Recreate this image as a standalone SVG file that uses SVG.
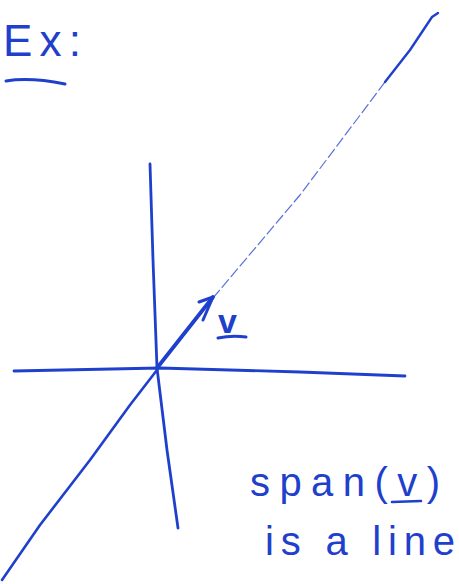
<svg xmlns="http://www.w3.org/2000/svg" width="459" height="584" viewBox="0 0 459 584">
<style>
.ink{fill:none;stroke:#1f40cc;stroke-linecap:round;stroke-linejoin:round}
.t{fill:#1f40cc;font-family:"Liberation Sans",Arial,sans-serif}
</style>
<rect width="459" height="584" fill="#fff"/>
<g id="title">
<text class="t" x="3" y="56" font-size="44" textLength="78" lengthAdjust="spacing">Ex:</text>
<path class="ink" stroke-width="3" d="M6 81 Q30 77 65 84"/>
</g>
<g id="axes">
<path class="ink" stroke-width="2.8" d="M150 164 L153 260 L157 368 L167 450 L178 528"/>
<path class="ink" stroke-width="2.8" d="M14 371 L160 368 L300 372 L405 376"/>
</g>
<g id="span-line">
<path class="ink" stroke-width="2.6" d="M2 580 L40 525 L90 460 L130 405 L157 370"/>
<path class="ink" stroke-width="1.2" stroke-dasharray="10 4" opacity="0.75" d="M213 298 L300 195 L385 82"/>
<path class="ink" stroke-width="2.4" d="M385 82 L410 50 L432 17 L438 13"/>
</g>
<g id="vector-v">
<path class="ink" stroke-width="3.8" d="M157 368 L213 297"/>
<path class="ink" stroke-width="3" d="M199 302 L213 297 L203 320"/>
<text class="t" x="218" y="333" font-size="34" font-weight="bold">v</text>
<path class="ink" stroke-width="3" d="M218 338 Q232 335 246 337"/>
</g>
<g id="labels">
<text class="t" x="250" y="496" font-size="40" textLength="190" lengthAdjust="spacing">span(v)</text>
<path class="ink" stroke-width="2.6" d="M392 502 L421 501"/>
<text class="t" x="265" y="555" font-size="40" textLength="190" lengthAdjust="spacing">is a line</text>
</g>
</svg>
